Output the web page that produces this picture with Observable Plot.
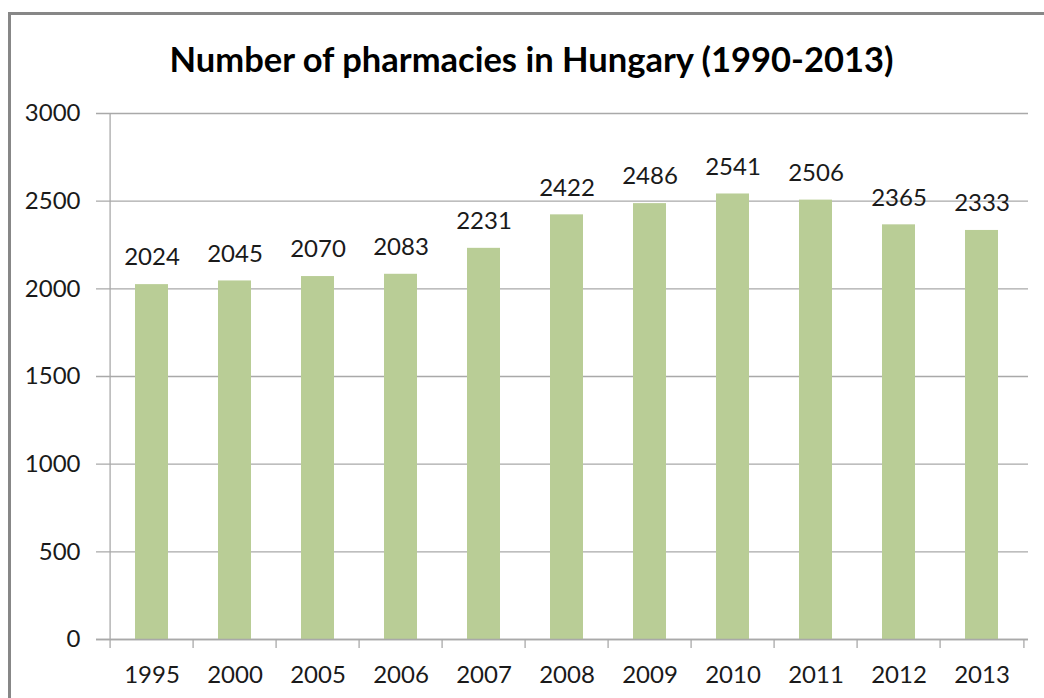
<!DOCTYPE html>
<html><head><meta charset="utf-8">
<script src="https://cdn.jsdelivr.net/npm/d3@7"></script>
<script src="https://cdn.jsdelivr.net/npm/@observablehq/plot@0.6"></script>
<style>
body{margin:0;background:#fff;}
#wrap{position:relative;width:1044px;height:698px;overflow:hidden;background:#fff;font-family:Lato,sans-serif;}
#title{height:84px;box-sizing:border-box;padding-top:39px;padding-left:19px;text-align:center;font-weight:700;font-size:34.5px;line-height:40px;color:#000;white-space:nowrap;}
#chart svg{display:block;}
#frame{position:absolute;left:8px;top:12px;width:2000px;height:2000px;border-top:3px solid #878787;border-left:3px solid #878787;pointer-events:none;}
</style></head><body>
<div id="wrap"><div id="title"></div><div id="chart"></div><div id="frame"></div></div>
<script>
const chartTitle = "Number of pharmacies in Hungary (1990-2013)";
const years = ["1995","2000","2005","2006","2007","2008","2009","2010","2011","2012","2013"];
const pharmacies = [2024,2045,2070,2083,2231,2422,2486,2541,2506,2365,2333];
const yTicks = [0,500,1000,1500,2000,2500,3000];

document.getElementById("title").textContent = chartTitle;
const data = years.map((year, i) => ({year, value: pharmacies[i]}));

const W = 1044, H = 614, mL = 106, mR = 16, mT = 29, mB = 59;
const step = (W - mL - mR) / years.length;
const gridColor = "#a9a9a9";
const textColor = "#1a1a1a";
const plotH = H - mT - mB;
const fs = 24;

const chart = Plot.plot({
  width: W, height: H,
  marginLeft: mL, marginRight: mR, marginTop: mT, marginBottom: mB,
  style: {fontFamily: "Lato, sans-serif", fontSize: fs + "px", color: textColor, background: "white"},
  x: {type: "band", domain: years, paddingInner: 0.6, paddingOuter: 0.3, axis: null},
  y: {domain: [0, 3000], axis: null},
  marks: [
    Plot.ruleY(yTicks, {y: d => d, stroke: gridColor, strokeWidth: 1.3, insetLeft: -10}),
    Plot.barY(data, {x: "year", y: "value", fill: "#b9cd96"}),
    Plot.ruleY([0], {y: d => d, stroke: gridColor, strokeWidth: 1.3, insetLeft: -10}),
    Plot.tickX([years[0]], {x: d => d, dx: -step / 2, stroke: gridColor, strokeWidth: 1.3}),
    Plot.tickX(years, {x: d => d, dx: -step / 2, stroke: gridColor, strokeWidth: 1.3, insetTop: plotH, insetBottom: -9}),
    Plot.tickX([years[years.length - 1]], {x: d => d, dx: step / 2, stroke: gridColor, strokeWidth: 1.3, insetTop: plotH, insetBottom: -9}),
    Plot.text(data, {x: "year", y: "value", text: d => String(d.value), dy: -27, fill: textColor, fontSize: fs}),
    Plot.axisY(yTicks, {tickSize: 0, tickPadding: 26, fontSize: fs, label: null, fill: textColor, tickFormat: d => String(d)}),
    Plot.axisX({tickSize: 0, tickPadding: 26, fontSize: fs, label: null, fill: textColor})
  ]
});
document.getElementById("chart").appendChild(chart);
</script>
</body></html>
